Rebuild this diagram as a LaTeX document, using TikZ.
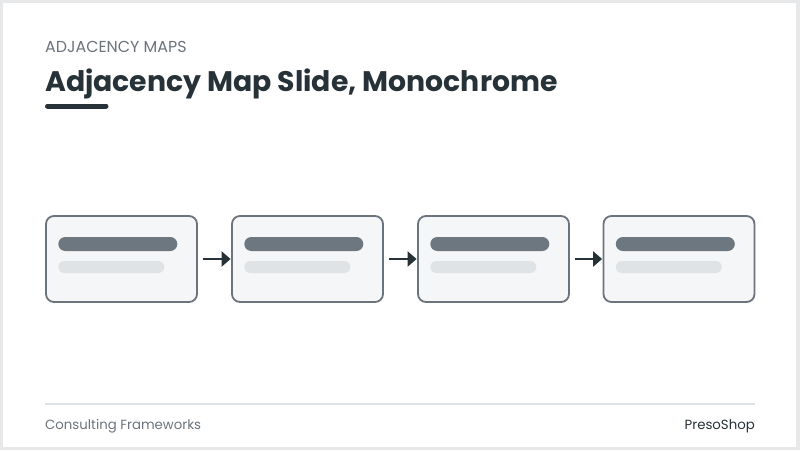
\documentclass[tikz,border=0pt]{standalone}
\usepackage{fontspec}
\setmainfont{Poppins}
\usetikzlibrary{arrows.meta,positioning}
\definecolor{ink}{HTML}{263238}
\definecolor{slate}{HTML}{6B747C}
\definecolor{barDark}{HTML}{6C7780}
\definecolor{barLight}{HTML}{E0E3E5}
\definecolor{cardFill}{HTML}{F5F6F7}
\definecolor{frameGray}{HTML}{E6E8EA}
\tikzset{
	card/.style={draw=slate,line width=1.8pt,fill=cardFill,rounded corners=8pt,
		minimum width=151pt,minimum height=86pt,inner sep=0pt},
	barTop/.style={fill=barDark,rounded corners=7pt,minimum width=119pt,minimum height=14pt,inner sep=0pt},
	barSub/.style={fill=barLight,rounded corners=6pt,minimum width=106pt,minimum height=12pt,inner sep=0pt},
	link/.style={draw=ink,line width=2.6pt,-{Triangle[length=9pt,width=15pt]},shorten <=5pt,shorten >=0.5pt},
}
\begin{document}
\begin{tikzpicture}[x=1pt,y=-1pt]
	\useasboundingbox (0,0) rectangle (800,450);
	% slide frame
	\fill[frameGray] (0,0) rectangle (800,450);
	\fill[white] (3,3) rectangle (796,447);
	% header
	\node[anchor=base west,inner sep=0pt,text=slate,font=\fontsize{15.9}{19}\selectfont] (kicker) at (45,52) {ADJACENCY MAPS};
	\node[anchor=base west,inner sep=0pt,text=ink,font=\fontsize{28.3}{33}\selectfont\bfseries] (title) at (45,91) {Adjacency Map Slide, Monochrome};
	\draw[ink,line width=5pt,line cap=round] (47.5,106) -- (106,106);
	% cards
	\foreach \i/\x in {1/121.5,2/307.5,3/493.5,4/679}{
		\node[card] (card\i) at (\x,259) {};
		\node[barTop,anchor=west] (head\i) at ([xshift=13pt,yshift=15pt]card\i.west) {};
		\node[barSub,anchor=west] (sub\i) at ([xshift=13pt,yshift=-8pt]card\i.west) {};
	}
	\draw[link] (card1.east) -- (card2.west);
	\draw[link] (card2.east) -- (card3.west);
	\draw[link] (card3.east) -- (card4.west);
	% footer
	\draw[barLight,line width=1.2pt] (45,404) -- (755,404);
	\node[anchor=base west,inner sep=0pt,text=slate,font=\fontsize{13.3}{16}\selectfont] (brandL) at (45,429) {Consulting Frameworks};
	\node[anchor=base east,inner sep=0pt,text=ink,font=\fontsize{13.3}{16}\selectfont] (brandR) at (755,429) {PresoShop};
\end{tikzpicture}
\end{document}
